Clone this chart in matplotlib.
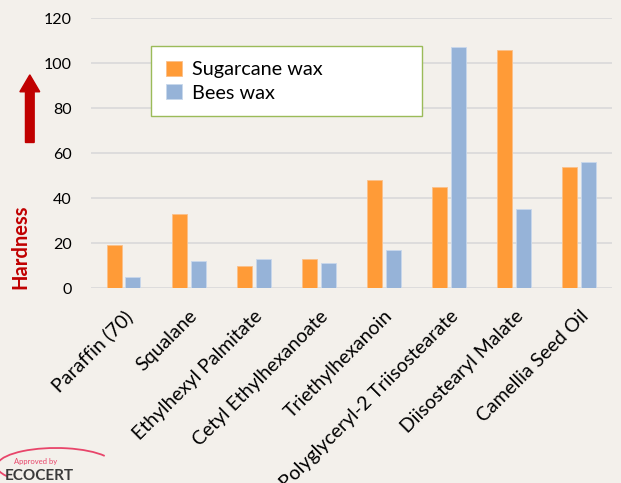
import matplotlib.pyplot as plt
import numpy as np
from matplotlib.patches import Arc, FancyArrow

categories = ['Paraffin (70)', 'Squalane', 'Ethylhexyl Palmitate', 'Cetyl Ethylhexanoate',
              'Triethylhexanoin', 'Polyglyceryl-2 Triisostearate', 'Diisostearyl Malate',
              'Camellia Seed Oil']
sugarcane = [19, 33, 10, 13, 48, 45, 106, 54]
bees = [5, 12, 13, 11, 17, 107, 35, 56]

bg = '#F3F0EB'
plt.rcParams['font.family'] = ['Lato', 'DejaVu Sans']

fig = plt.figure(figsize=(6.21, 4.83), dpi=100, facecolor=bg)
ax = fig.add_axes([0.1465, 0.4037, 0.839, 0.559])
ax.set_facecolor(bg)

x = np.arange(len(categories))
w = 0.23
ax.bar(x - w/2 - 0.03, sugarcane, w, color='#FF9B37', edgecolor='#FBC08A', linewidth=0.6,
       label='Sugarcane wax', zorder=3)
ax.bar(x + w/2 + 0.03, bees, w, color='#96B3D8', edgecolor='#C8D8EC', linewidth=0.6,
       label='Bees wax', zorder=3)

ax.set_xlim(-0.5, len(categories) - 0.5)
ax.set_ylim(0, 120)
ax.set_yticks(range(0, 121, 20))
ax.yaxis.grid(True, color='#D9D9D9', linewidth=1.2, zorder=0)
for s in ax.spines.values():
    s.set_visible(False)
ax.tick_params(length=0, labelsize=11.5, colors='#000000')
ax.tick_params(axis='y', pad=14)
ax.tick_params(axis='x', pad=14)
ax.set_xticks(x)
ax.set_xticklabels(categories, rotation=45, ha='right', rotation_mode='anchor', fontsize=14)

leg = ax.legend(loc='upper left', bbox_to_anchor=(0.115, 0.896, 0.52, 0.0), mode='expand',
                fontsize=14.3, frameon=True, fancybox=False, edgecolor='#9BBB59',
                facecolor='white', framealpha=1, borderpad=0.75, handlelength=0.8,
                handleheight=0.8, handletextpad=0.5, labelspacing=0.28, borderaxespad=0)
leg.get_frame().set_linewidth(1.0)
leg.set_zorder(5)

# Hardness label and arrow
fig.text(0.033, 0.49, 'Hardness', rotation=90, color='#C00000', fontsize=14.5,
         fontweight='bold', ha='center', va='center')
fig.add_artist(FancyArrow(0.048, 0.705, 0, 0.14, width=0.014, head_width=0.032,
                          head_length=0.035, length_includes_head=True,
                          color='#C00000', transform=fig.transFigure))

# Ecocert logo
fig.text(0.022, 0.045, 'Approved by', color='#E8456A', fontsize=5.5, ha='left', va='center')
fig.text(0.008, 0.014, 'ECOCERT', color='#3A3A3A', fontsize=11, fontweight='bold',
         ha='left', va='center')
fig.add_artist(Arc((0.09, 0.035), 0.19, 0.075, theta1=15, theta2=195, color='#E8456A',
                   linewidth=1.3, transform=fig.transFigure))

fig.savefig('out.png', dpi=100, facecolor=bg)
